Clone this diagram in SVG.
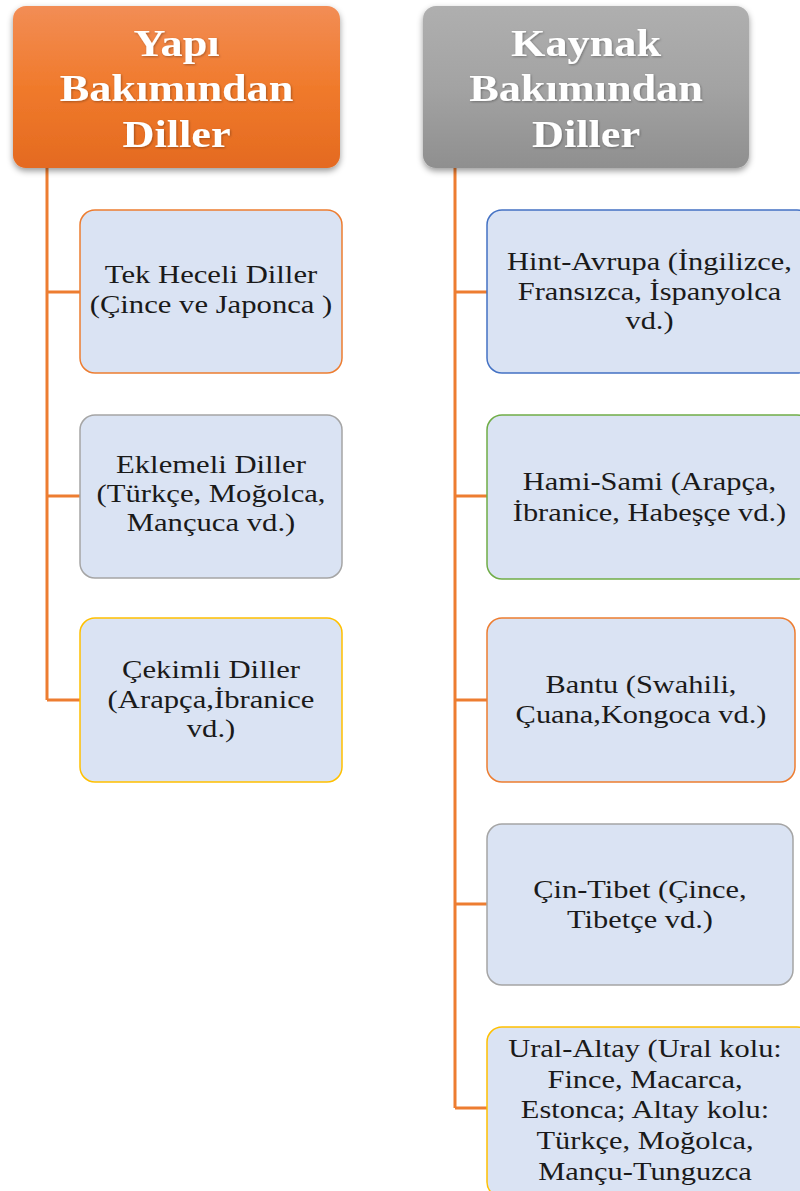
<svg xmlns="http://www.w3.org/2000/svg" width="800" height="1191" viewBox="0 0 800 1191">
<style>
.hd{font-family:"Liberation Serif","Times New Roman",serif;font-weight:bold;font-size:38px;fill:#FFFFFF;text-anchor:middle}
.tx{font-family:"Liberation Serif","Times New Roman",serif;font-size:26px;fill:#1a1a1a;text-anchor:middle}
.bx{fill:#DAE3F3;stroke-width:1.5}
.cn{fill:none;stroke:#ED7D31;stroke-width:3}
</style>
<defs>
<linearGradient id="gO" x1="0" y1="0" x2="0" y2="1"><stop offset="0" stop-color="#F28D55"/><stop offset="0.5" stop-color="#F07A2C"/><stop offset="1" stop-color="#E46A20"/></linearGradient>
<linearGradient id="gG" x1="0" y1="0" x2="0" y2="1"><stop offset="0" stop-color="#AFAFAF"/><stop offset="0.5" stop-color="#A3A3A3"/><stop offset="1" stop-color="#8F8F8F"/></linearGradient>
<filter id="sh" x="-10%" y="-10%" width="120%" height="130%"><feDropShadow dx="0" dy="3" stdDeviation="3" flood-color="#000" flood-opacity="0.4"/></filter>
<filter id="ts" x="-10%" y="-20%" width="120%" height="140%"><feDropShadow dx="1" dy="1" stdDeviation="1" flood-color="#000" flood-opacity="0.3"/></filter>
</defs>
<g id="connectors">
<path class="cn" d="M47,168 V700 M47,292 H80 M47,496 H80 M47,700 H80"/>
<path class="cn" d="M455,168 V1108 M455,292 H487 M455,496 H487 M455,700 H487 M455,904 H487 M455,1108 H487"/>
</g>
<g id="header-yapi">
<rect x="13" y="6" width="327" height="162" rx="13" fill="url(#gO)" filter="url(#sh)"/>
<g filter="url(#ts)">
<text class="hd" transform="translate(176.5,0) scale(1.165,1)" x="0" y="56">Yapı</text>
<text class="hd" transform="translate(176.5,0) scale(1.165,1)" x="0" y="101">Bakımından</text>
<text class="hd" transform="translate(176.5,0) scale(1.165,1)" x="0" y="147">Diller</text>
</g>
</g>
<g id="header-kaynak">
<rect x="423" y="6" width="326" height="162" rx="13" fill="url(#gG)" filter="url(#sh)"/>
<g filter="url(#ts)">
<text class="hd" transform="translate(586,0) scale(1.165,1)" x="0" y="56">Kaynak</text>
<text class="hd" transform="translate(586,0) scale(1.165,1)" x="0" y="101">Bakımından</text>
<text class="hd" transform="translate(586,0) scale(1.165,1)" x="0" y="147">Diller</text>
</g>
</g>
<g id="tek-heceli">
<rect class="bx" x="80" y="210" width="262" height="163" rx="15" stroke="#ED7D31"/>
<text class="tx" transform="translate(211,0) scale(1.18,1)" x="0" y="283">Tek Heceli Diller</text>
<text class="tx" transform="translate(211,0) scale(1.18,1)" x="0" y="313">(Çince ve Japonca )</text>
</g>
<g id="eklemeli">
<rect class="bx" x="80" y="415" width="262" height="163" rx="15" stroke="#A5A5A5"/>
<text class="tx" transform="translate(211,0) scale(1.18,1)" x="0" y="473">Eklemeli Diller</text>
<text class="tx" transform="translate(211,0) scale(1.18,1)" x="0" y="502">(Türkçe, Moğolca,</text>
<text class="tx" transform="translate(211,0) scale(1.18,1)" x="0" y="531">Mançuca vd.)</text>
</g>
<g id="cekimli">
<rect class="bx" x="80" y="618" width="262" height="164" rx="15" stroke="#FFC000"/>
<text class="tx" transform="translate(211,0) scale(1.18,1)" x="0" y="678">Çekimli Diller</text>
<text class="tx" transform="translate(211,0) scale(1.18,1)" x="0" y="708">(Arapça,İbranice</text>
<text class="tx" transform="translate(211,0) scale(1.18,1)" x="0" y="737">vd.)</text>
</g>
<g id="hint-avrupa">
<rect class="bx" x="487" y="210" width="325" height="163" rx="15" stroke="#4472C4"/>
<text class="tx" transform="translate(649.5,0) scale(1.17,1)" x="0" y="270">Hint-Avrupa (İngilizce,</text>
<text class="tx" transform="translate(649.5,0) scale(1.17,1)" x="0" y="300">Fransızca, İspanyolca</text>
<text class="tx" transform="translate(649.5,0) scale(1.17,1)" x="0" y="329">vd.)</text>
</g>
<g id="hami-sami">
<rect class="bx" x="487" y="415" width="325" height="164" rx="15" stroke="#70AD47"/>
<text class="tx" transform="translate(649.5,0) scale(1.17,1)" x="0" y="490">Hami-Sami (Arapça,</text>
<text class="tx" transform="translate(649.5,0) scale(1.17,1)" x="0" y="521">İbranice, Habeşçe vd.)</text>
</g>
<g id="bantu">
<rect class="bx" x="487" y="618" width="308" height="164" rx="15" stroke="#ED7D31"/>
<text class="tx" transform="translate(641,0) scale(1.17,1)" x="0" y="693">Bantu (Swahili,</text>
<text class="tx" transform="translate(641,0) scale(1.17,1)" x="0" y="723">Çuana,Kongoca vd.)</text>
</g>
<g id="cin-tibet">
<rect class="bx" x="487" y="824" width="306" height="161" rx="15" stroke="#A5A5A5"/>
<text class="tx" transform="translate(640,0) scale(1.17,1)" x="0" y="898">Çin-Tibet (Çince,</text>
<text class="tx" transform="translate(640,0) scale(1.17,1)" x="0" y="928">Tibetçe vd.)</text>
</g>
<g id="ural-altay">
<rect class="bx" x="487" y="1027" width="325" height="170" rx="15" stroke="#FFC000"/>
<text class="tx" transform="translate(645,0) scale(1.17,1)" x="0" y="1057">Ural-Altay (Ural kolu:</text>
<text class="tx" transform="translate(645,0) scale(1.17,1)" x="0" y="1088">Fince, Macarca,</text>
<text class="tx" transform="translate(645,0) scale(1.17,1)" x="0" y="1118">Estonca; Altay kolu:</text>
<text class="tx" transform="translate(645,0) scale(1.17,1)" x="0" y="1149">Türkçe, Moğolca,</text>
<text class="tx" transform="translate(645,0) scale(1.17,1)" x="0" y="1180">Mançu-Tunguzca</text>
</g>
</svg>
